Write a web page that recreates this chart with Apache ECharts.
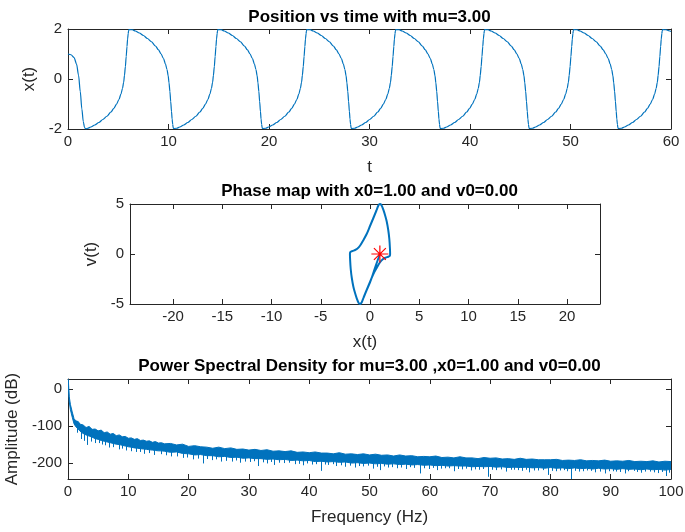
<!DOCTYPE html>
<html>
<head>
<meta charset="utf-8">
<script src="https://cdn.jsdelivr.net/npm/echarts@6/dist/echarts.min.js"></script>
<style>
html,body{margin:0;padding:0;background:#fff;}
#chart{width:685px;height:532px;}
</style>
</head>
<body>
<div id="chart"></div>
<script>
// ---------- Plot 1: position vs time ----------
const tPos = [0, 0.3, 0.6, 0.85, 1.05, 1.22, 1.38, 1.52, 1.65, 1.78,
  1.97, 2.27, 2.67, 3.07, 3.47, 3.87, 4.27, 4.57, 4.82, 5.07, 5.27, 5.42, 5.54, 5.62, 5.71, 5.79, 5.87, 5.93, 5.99, 6.03, 6.07, 6.10,
  6.40, 6.70, 7.10, 7.50, 7.90, 8.30, 8.70, 9.00, 9.25, 9.50, 9.70, 9.85, 9.97, 10.05, 10.14, 10.22, 10.30, 10.36, 10.42, 10.46, 10.50,
  10.52, 10.82, 11.12, 11.52, 11.92, 12.32, 12.72, 13.12, 13.42, 13.67, 13.92, 14.12, 14.27, 14.39, 14.47, 14.56, 14.64, 14.72, 14.78, 14.84, 14.88, 14.92, 14.95,
  15.25, 15.55, 15.95, 16.35, 16.75, 17.15, 17.55, 17.85, 18.10, 18.35, 18.55, 18.70, 18.82, 18.90, 18.99, 19.07, 19.15, 19.21, 19.27, 19.31, 19.35,
  19.37, 19.67, 19.97, 20.37, 20.77, 21.17, 21.57, 21.97, 22.27, 22.52, 22.77, 22.97, 23.12, 23.24, 23.32, 23.41, 23.49, 23.57, 23.63, 23.69, 23.73, 23.77, 23.80,
  24.10, 24.40, 24.80, 25.20, 25.60, 26.00, 26.40, 26.70, 26.95, 27.20, 27.40, 27.55, 27.67, 27.75, 27.84, 27.92, 28.00, 28.06, 28.12, 28.16, 28.20,
  28.22, 28.52, 28.82, 29.22, 29.62, 30.02, 30.42, 30.82, 31.12, 31.37, 31.62, 31.82, 31.97, 32.09, 32.17, 32.26, 32.34, 32.42, 32.48, 32.54, 32.58, 32.62, 32.65,
  32.95, 33.25, 33.65, 34.05, 34.45, 34.85, 35.25, 35.55, 35.80, 36.05, 36.25, 36.40, 36.52, 36.60, 36.69, 36.77, 36.85, 36.91, 36.97, 37.01, 37.05,
  37.07, 37.37, 37.67, 38.07, 38.47, 38.87, 39.27, 39.67, 39.97, 40.22, 40.47, 40.67, 40.82, 40.94, 41.02, 41.11, 41.19, 41.27, 41.33, 41.39, 41.43, 41.47, 41.50,
  41.80, 42.10, 42.50, 42.90, 43.30, 43.70, 44.10, 44.40, 44.65, 44.90, 45.10, 45.25, 45.37, 45.45, 45.54, 45.62, 45.70, 45.76, 45.82, 45.86, 45.90,
  45.92, 46.22, 46.52, 46.92, 47.32, 47.72, 48.12, 48.52, 48.82, 49.07, 49.32, 49.52, 49.67, 49.79, 49.87, 49.96, 50.04, 50.12, 50.18, 50.24, 50.28, 50.32, 50.35,
  50.65, 50.95, 51.35, 51.75, 52.15, 52.55, 52.95, 53.25, 53.50, 53.75, 53.95, 54.10, 54.22, 54.30, 54.39, 54.47, 54.55, 54.61, 54.67, 54.71, 54.75,
  54.77, 55.07, 55.37, 55.77, 56.17, 56.57, 56.97, 57.37, 57.67, 57.92, 58.17, 58.37, 58.52, 58.64, 58.72, 58.81, 58.89, 58.97, 59.03, 59.09, 59.13, 59.17, 59.20,
  59.50, 59.80, 60.00];
const xPos = [1.00, 0.97, 0.86, 0.60, 0.15, -0.50, -1.20, -1.70, -1.95, -2.00,
  -1.97, -1.92, -1.84, -1.74, -1.62, -1.49, -1.32, -1.17, -1.01, -0.82, -0.60, -0.38, -0.13, 0.15, 0.50, 0.90, 1.30, 1.60, 1.82, 1.93, 1.98, 2.00,
  1.97, 1.92, 1.84, 1.74, 1.62, 1.49, 1.32, 1.17, 1.01, 0.82, 0.60, 0.38, 0.13, -0.15, -0.50, -0.90, -1.30, -1.60, -1.82, -1.93, -1.98,
  -2.00, -1.97, -1.92, -1.84, -1.74, -1.62, -1.49, -1.32, -1.17, -1.01, -0.82, -0.60, -0.38, -0.13, 0.15, 0.50, 0.90, 1.30, 1.60, 1.82, 1.93, 1.98, 2.00,
  1.97, 1.92, 1.84, 1.74, 1.62, 1.49, 1.32, 1.17, 1.01, 0.82, 0.60, 0.38, 0.13, -0.15, -0.50, -0.90, -1.30, -1.60, -1.82, -1.93, -1.98,
  -2.00, -1.97, -1.92, -1.84, -1.74, -1.62, -1.49, -1.32, -1.17, -1.01, -0.82, -0.60, -0.38, -0.13, 0.15, 0.50, 0.90, 1.30, 1.60, 1.82, 1.93, 1.98, 2.00,
  1.97, 1.92, 1.84, 1.74, 1.62, 1.49, 1.32, 1.17, 1.01, 0.82, 0.60, 0.38, 0.13, -0.15, -0.50, -0.90, -1.30, -1.60, -1.82, -1.93, -1.98,
  -2.00, -1.97, -1.92, -1.84, -1.74, -1.62, -1.49, -1.32, -1.17, -1.01, -0.82, -0.60, -0.38, -0.13, 0.15, 0.50, 0.90, 1.30, 1.60, 1.82, 1.93, 1.98, 2.00,
  1.97, 1.92, 1.84, 1.74, 1.62, 1.49, 1.32, 1.17, 1.01, 0.82, 0.60, 0.38, 0.13, -0.15, -0.50, -0.90, -1.30, -1.60, -1.82, -1.93, -1.98,
  -2.00, -1.97, -1.92, -1.84, -1.74, -1.62, -1.49, -1.32, -1.17, -1.01, -0.82, -0.60, -0.38, -0.13, 0.15, 0.50, 0.90, 1.30, 1.60, 1.82, 1.93, 1.98, 2.00,
  1.97, 1.92, 1.84, 1.74, 1.62, 1.49, 1.32, 1.17, 1.01, 0.82, 0.60, 0.38, 0.13, -0.15, -0.50, -0.90, -1.30, -1.60, -1.82, -1.93, -1.98,
  -2.00, -1.97, -1.92, -1.84, -1.74, -1.62, -1.49, -1.32, -1.17, -1.01, -0.82, -0.60, -0.38, -0.13, 0.15, 0.50, 0.90, 1.30, 1.60, 1.82, 1.93, 1.98, 2.00,
  1.97, 1.92, 1.84, 1.74, 1.62, 1.49, 1.32, 1.17, 1.01, 0.82, 0.60, 0.38, 0.13, -0.15, -0.50, -0.90, -1.30, -1.60, -1.82, -1.93, -1.98,
  -2.00, -1.97, -1.92, -1.84, -1.74, -1.62, -1.49, -1.32, -1.17, -1.01, -0.82, -0.60, -0.38, -0.13, 0.15, 0.50, 0.90, 1.30, 1.60, 1.82, 1.93, 1.98, 2.00,
  1.97, 1.93, 1.90];

// ---------- Plot 2: phase map ----------
const phaseX = [1.00, 0.92, 0.75, 0.50, 0.25, 0.00, -0.34, -0.65, -0.85, -1.00, -1.15, -1.35, -1.55, -1.69, -1.85, -1.96, -2.02, -2.04,
  -2.00, -1.85, -1.60, -1.30, -1.00, -0.70, -0.34, 0.00, 0.34, 0.65, 0.85, 1.00, 1.15, 1.35, 1.55, 1.69, 1.85, 1.96, 2.02, 2.04,
  2.00, 1.85, 1.60, 1.30, 1.00, 0.70, 0.34, 0.00, -0.34, -0.65, -0.85, -1.00];
const phaseV = [0.00, -0.25, -0.70, -1.40, -2.15, -2.85, -3.60, -4.35, -4.85, -5.00, -4.90, -4.43, -3.80, -3.27, -2.40, -1.50, -0.60, 0.00,
  0.20, 0.27, 0.36, 0.52, 0.85, 1.35, 2.00, 2.80, 3.60, 4.35, 4.85, 5.00, 4.90, 4.43, 3.80, 3.27, 2.40, 1.50, 0.60, 0.00,
  -0.20, -0.27, -0.36, -0.52, -0.85, -1.35, -2.00, -2.80, -3.60, -4.35, -4.85, -5.00];
const startPoint = [1.0, 0.0];
const phaseXTicks = [-20, -15, -10, -5, 0, 5, 10, 15, 20];

// ---------- Plot 3: power spectral density ----------
const psdFreq = [0, 0.05, 0.2, 0.4, 0.7, 1.0, 1.3, 1.7, 2.0, 2.5, 3.0, 3.5, 4.0,
  4.5, 5, 5.5, 6, 6.5, 7, 7.5, 8, 8.5, 9, 9.5, 10, 10.5, 11, 11.5, 12, 12.5, 13, 13.5, 14, 14.5, 15, 15.5,
  16, 17, 18, 19, 20, 21, 22, 23, 24, 25, 26, 27, 28, 29, 30, 31, 32, 33, 34, 35, 36, 37, 38, 39,
  40, 41, 42, 43, 44, 45, 46, 47, 48, 49, 50, 51, 52, 53, 54, 55, 56, 57, 58, 59,
  60, 61, 62, 63, 64, 65, 66, 67, 68, 69, 70, 71, 72, 73, 74, 75, 76, 77, 78, 79,
  80, 81, 82, 83, 84, 85, 86, 87, 88, 89, 90, 91, 92, 93, 94, 95, 96, 97, 98, 99, 100];
const psdUpper = [20, 26, -20, -42, -62, -80, -86, -88, -95, -97, -104, -101, -109,
  -108, -113, -111, -118, -116, -122, -120, -126, -124, -129, -128, -133, -132, -136, -134, -139, -138, -141, -140, -144, -142, -146, -145,
  -148, -147, -151, -149, -155, -153, -156, -157, -160, -157, -161, -159, -163, -162, -165, -163, -166, -164, -168, -167, -169, -167, -171, -170,
  -172, -170, -173, -173, -175, -172, -176, -175, -177, -175, -178, -176, -179, -178, -181, -178, -181, -180, -183, -182,
  -183, -181, -185, -184, -186, -183, -186, -186, -188, -185, -187, -186, -189, -188, -190, -187, -190, -189, -191, -191,
  -191, -190, -193, -192, -193, -191, -194, -193, -194, -192, -195, -194, -195, -193, -196, -195, -196, -194, -197, -195, -196];
const psdLower = [8, 12, -34, -56, -76, -94, -102, -108, -114, -120, -124, -127, -130,
  -134, -136, -139, -141, -143, -145, -147, -149, -150, -152, -154, -156, -157, -159, -160, -161, -162, -163, -164, -165, -166, -167, -167,
  -168, -171, -170, -174, -175, -178, -177, -180, -180, -183, -182, -185, -184, -187, -186, -188, -188, -190, -189, -191, -190, -193, -192, -194,
  -193, -196, -195, -197, -196, -198, -197, -200, -199, -201, -200, -202, -201, -203, -202, -204, -203, -205, -204, -206,
  -205, -207, -206, -208, -207, -208, -208, -210, -209, -210, -209, -211, -210, -212, -211, -212, -211, -213, -212, -214,
  -212, -214, -213, -215, -213, -215, -214, -216, -214, -216, -215, -217, -215, -217, -216, -218, -216, -218, -217, -219, -217];
const spikeFreq = [2.6, 3.2, 4.5, 5.6, 6.8, 8.4, 9.7, 11.3, 12.6, 14.2, 15.5, 17.0, 19.0, 20.7, 22.4, 23.8, 25.3, 27.2, 28.6, 30.2,
  31.5, 33.0, 34.2, 35.8, 37.7, 39.0, 40.4, 42.0, 43.2, 44.5, 46.0, 47.6, 49.0, 50.5, 51.8, 53.1, 54.6, 56.0, 57.3, 58.4,
  59.8, 61.2, 62.5, 64.0, 65.3, 66.8, 68.2, 69.6, 71.0, 72.7, 74.0, 75.3, 76.5, 78.0, 79.6, 81.0, 82.2, 83.4, 84.8, 86.0,
  87.4, 89.0, 90.3, 91.5, 92.3, 93.8, 95.0, 96.5, 97.8, 99.2,
  1.5, 2.2, 3.8, 5.2, 6.2, 7.5, 9.0, 10.5, 12.0, 13.5, 16.2, 18.0, 19.8, 21.5, 23.1, 24.6, 26.2, 27.9, 29.4, 30.9,
  32.3, 33.6, 35.0, 36.6, 38.3, 39.7, 41.2, 42.6, 43.9, 45.3, 46.8, 48.3, 49.7, 51.2, 52.4, 53.8, 55.3, 56.7, 59.1, 60.5,
  61.9, 63.2, 64.6, 66.0, 67.5, 68.9, 70.3, 71.8, 73.4, 74.7, 75.9, 77.2, 78.8, 80.3, 81.6, 82.8, 84.1, 85.4, 86.7, 88.2,
  89.7, 90.9, 92.9, 94.4, 95.7, 97.1, 98.5, 99.7];
const spikeTop = [-115, -120, -128, -135, -140, -145, -150, -155, -158, -160, -162, -165, -168, -172, -174, -176, -178, -180, -181, -182,
  -183, -184, -185, -186, -187, -188, -189, -190, -191, -192, -193, -194, -195, -196, -197, -198, -198, -199, -200, -200,
  -201, -202, -202, -203, -203, -204, -204, -205, -205, -206, -206, -207, -207, -208, -208, -209, -209, -209, -210, -210,
  -210, -211, -211, -211, -212, -212, -212, -213, -213, -213,
  -100, -112, -126, -133, -138, -144, -149, -154, -158, -161, -165, -168, -172, -174, -176, -178, -180, -181, -183, -184,
  -185, -186, -187, -188, -189, -190, -191, -192, -193, -194, -195, -196, -197, -198, -199, -200, -201, -201, -202, -203,
  -204, -204, -205, -205, -206, -206, -207, -207, -208, -208, -209, -209, -210, -210, -211, -211, -211, -212, -212, -212,
  -213, -213, -213, -214, -214, -215, -215, -215];
const spikeBottom = [-140, -151, -146, -150, -158, -163, -166, -170, -175, -178, -176, -182, -186, -190, -201, -192, -196, -196, -199, -197,
  -208, -201, -205, -200, -203, -206, -204, -221, -205, -208, -210, -212, -209, -215, -219, -212, -214, -216, -213, -228,
  -216, -219, -214, -222, -217, -220, -218, -237, -219, -223, -218, -221, -225, -220, -232, -222, -219, -243, -223, -220,
  -225, -228, -222, -224, -228, -221, -226, -223, -227, -235,
  -118, -135, -142, -146, -152, -157, -161, -168, -170, -173, -179, -182, -185, -188, -189, -190, -194, -193, -196, -195,
  -198, -197, -199, -199, -202, -201, -203, -204, -203, -206, -207, -208, -207, -210, -209, -211, -212, -211, -214, -213,
  -215, -214, -216, -215, -217, -216, -218, -217, -218, -219, -218, -220, -219, -221, -220, -222, -221, -222, -221, -223,
  -222, -223, -222, -224, -223, -225, -224, -226];
const psdYTicks = [-200, -100, 0];

// ---------- styling ----------
const FONT = '"Liberation Sans", Arial, Helvetica, sans-serif';
const AX = '#262626';
const BLUE = '#0072BD';

function xPair(grid, min, max, interval, ticks, name, nameGap) {
  const base = {
    type: 'value', gridIndex: grid, min: min, max: max,
    splitLine: { show: false },
    axisLine: { show: true, onZero: false, lineStyle: { color: AX, width: 1 } },
    axisTick: { show: true, inside: true, length: 5, lineStyle: { color: AX, width: 1 } },
    axisLabel: { show: true, margin: 5, color: AX, fontSize: 15, fontFamily: FONT }
  };
  if (interval != null) base.interval = interval;
  if (ticks) { base.axisTick.customValues = ticks; base.axisLabel.customValues = ticks; }
  const bottom = JSON.parse(JSON.stringify(base));
  bottom.position = 'bottom';
  bottom.name = name; bottom.nameLocation = 'middle'; bottom.nameGap = nameGap;
  bottom.nameTextStyle = { fontSize: 17, color: AX, fontFamily: FONT };
  const top = JSON.parse(JSON.stringify(base));
  top.position = 'top';
  top.axisLabel.show = false;
  return [bottom, top];
}
function yPair(grid, min, max, interval, ticks, name, nameGap) {
  const base = {
    type: 'value', gridIndex: grid, min: min, max: max,
    splitLine: { show: false },
    axisLine: { show: true, onZero: false, lineStyle: { color: AX, width: 1 } },
    axisTick: { show: true, inside: true, length: 5, lineStyle: { color: AX, width: 1 } },
    axisLabel: { show: true, margin: 6, color: AX, fontSize: 15, fontFamily: FONT }
  };
  if (interval != null) base.interval = interval;
  if (ticks) { base.axisTick.customValues = ticks; base.axisLabel.customValues = ticks; }
  const left = JSON.parse(JSON.stringify(base));
  left.position = 'left';
  left.name = name; left.nameLocation = 'middle'; left.nameGap = nameGap;
  left.nameTextStyle = { fontSize: 17, color: AX, fontFamily: FONT };
  const right = JSON.parse(JSON.stringify(base));
  right.position = 'right';
  right.axisLabel.show = false;
  return [left, right];
}

const xAxes = [].concat(
  xPair(0, 0, 60, 10, null, 't', 30),
  xPair(1, -24.37, 23.35, null, phaseXTicks, 'x(t)', 29.5),
  xPair(2, 0, 100, 10, null, 'Frequency (Hz)', 29.5)
);
const yAxes = [].concat(
  yPair(0, -2, 2, 2, null, 'x(t)', 23),
  yPair(1, -5, 5, 5, null, 'v(t)', 23),
  yPair(2, -243, 27, null, psdYTicks, 'Amplitude (dB)', 42)
);

function titleText(txt, y) {
  return {
    type: 'text', x: 369.5, y: y,
    style: {
      text: txt, font: 'bold 17px ' + FONT, fill: '#000',
      align: 'center', verticalAlign: 'middle', textAlign: 'center', textVerticalAlign: 'middle'
    }
  };
}

const chart = echarts.init(document.getElementById('chart'), null, { renderer: 'canvas' });
chart.setOption({
  animation: false,
  backgroundColor: '#ffffff',
  grid: [
    { left: 68, top: 29, width: 603, height: 100, containLabel: false, outerBoundsMode: 'none' },
    { left: 130, top: 204, width: 470, height: 100, containLabel: false, outerBoundsMode: 'none' },
    { left: 68, top: 379, width: 603, height: 100, containLabel: false, outerBoundsMode: 'none' }
  ],
  xAxis: xAxes,
  yAxis: yAxes,
  graphic: [
    titleText('Position vs time with mu=3.00', 17),
    titleText('Phase map with x0=1.00 and v0=0.00', 191.5),
    titleText('Power Spectral Density for mu=3.00 ,x0=1.00 and v0=0.00', 366.5)
  ],
  series: [
    {
      type: 'line', xAxisIndex: 0, yAxisIndex: 0,
      data: tPos.map((t, i) => [t, xPos[i]]),
      symbol: 'none', smooth: 0.3, smoothMonotone: 'x',
      lineStyle: { color: BLUE, width: 1.2 }
    },
    {
      type: 'line', xAxisIndex: 2, yAxisIndex: 2,
      data: phaseX.map((x, i) => [x, phaseV[i]]),
      symbol: 'none', smooth: 0.3,
      lineStyle: { color: BLUE, width: 2 }
    },
    {
      type: 'scatter', xAxisIndex: 2, yAxisIndex: 2,
      data: [startPoint],
      symbol: 'path://M10,0L10,20M0,10L20,10M3,3L17,17M3,17L17,3',
      symbolSize: 17,
      itemStyle: { color: 'none', borderColor: '#FF0000', borderWidth: 1.2, opacity: 1 },
      z: 5
    },
    {
      type: 'custom', xAxisIndex: 4, yAxisIndex: 4,
      data: [[0, 0]],
      clip: true,
      renderItem: function (params, api) {
        const pts = [];
        for (let i = 0; i < psdFreq.length; i++) pts.push(api.coord([psdFreq[i], psdUpper[i]]));
        for (let i = psdFreq.length - 1; i >= 0; i--) pts.push(api.coord([psdFreq[i], psdLower[i]]));
        return { type: 'polygon', shape: { points: pts }, style: { fill: BLUE, stroke: BLUE, lineWidth: 1 } };
      }
    },
    {
      type: 'custom', xAxisIndex: 4, yAxisIndex: 4,
      data: spikeFreq.map((f, i) => [f, spikeTop[i], spikeBottom[i]]),
      encode: { x: 0, y: [1, 2] },
      clip: true,
      renderItem: function (params, api) {
        const a = api.coord([api.value(0), api.value(1)]);
        const b = api.coord([api.value(0), api.value(2)]);
        const px = Math.round(a[0]) + 0.5;
        return { type: 'line', shape: { x1: px, y1: a[1], x2: px, y2: b[1] }, style: { stroke: BLUE, lineWidth: 1 } };
      }
    }
  ]
});
</script>
</body>
</html>
